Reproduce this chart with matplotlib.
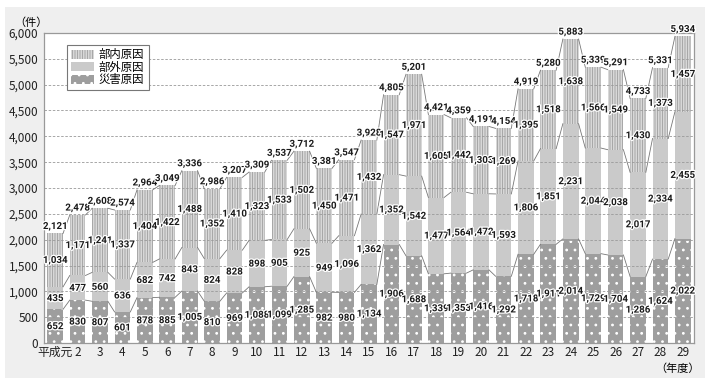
import matplotlib.pyplot as plt
import matplotlib.patheffects as pe
from matplotlib.patches import Rectangle
import numpy as np

plt.rcParams['font.family'] = ['Noto Sans CJK JP', 'DejaVu Sans']
plt.rcParams['hatch.linewidth'] = 0.8

years = ['平成元'] + [str(i) for i in range(2, 30)]
saigai = [652, 830, 807, 601, 878, 885, 1005, 810, 969, 1088, 1099, 1285, 982, 980, 1134,
          1906, 1688, 1339, 1353, 1416, 1292, 1718, 1911, 2014, 1729, 1704, 1286, 1624, 2022]
bugai = [435, 477, 560, 636, 682, 742, 843, 824, 828, 898, 905, 925, 949, 1096, 1362,
         1352, 1542, 1477, 1564, 1472, 1593, 1806, 1851, 2231, 2044, 2038, 2017, 2334, 2455]
bunai = [1034, 1171, 1241, 1337, 1404, 1422, 1488, 1352, 1410, 1323, 1533, 1502, 1450, 1471, 1432,
         1547, 1971, 1605, 1442, 1303, 1269, 1395, 1518, 1638, 1566, 1549, 1430, 1373, 1457]

saigai = np.array(saigai)
bugai = np.array(bugai)
bunai = np.array(bunai)
lv1 = saigai
lv2 = saigai + bugai
total = lv2 + bunai

fig = plt.figure(figsize=(7.1, 3.85), dpi=100)
fig.patch.set_facecolor('white')
fig.patches.append(Rectangle((5 / 710, 7 / 385), 700 / 710, 371 / 385, transform=fig.transFigure,
                             facecolor='#efefef', edgecolor='none', zorder=-10))
ax = fig.add_axes([44 / 710, 42 / 385, 650 / 710, 310 / 385])
ax.set_facecolor('white')

x = np.arange(len(years))
w = 0.7
ax.bar(x, saigai, w, color='#9e9e9e', edgecolor='white', hatch='..', linewidth=0, zorder=2, label='災害原因')
ax.bar(x, bugai, w, bottom=lv1, color='#cacaca', linewidth=0, zorder=2, label='部外原因')
ax.bar(x, bunai, w, bottom=lv2, color='white', edgecolor='#a8a8a8', hatch='|' * 10, linewidth=0, zorder=2,
       label='部内原因')

# connector lines between bars
for lv in (lv1, lv2, total):
    for i in range(len(x) - 1):
        ax.plot([x[i] + w / 2, x[i + 1] - w / 2], [lv[i], lv[i + 1]], color='#777777', lw=0.6, zorder=3)

stroke = [pe.withStroke(linewidth=1.8, foreground='white')]
kw = dict(ha='center', va='center', fontsize=7, fontweight='bold', color='#1a1a1a', zorder=5,
          family=['Roboto', 'DejaVu Sans'], path_effects=stroke)
for i in range(len(x)):
    ax.text(x[i], saigai[i] / 2, f'{saigai[i]:,}', **kw)
    ax.text(x[i], lv1[i] + bugai[i] / 2, f'{bugai[i]:,}', **kw)
    ax.text(x[i], lv2[i] + bunai[i] / 2, f'{bunai[i]:,}', **kw)
    ax.text(x[i], total[i] + 40, f'{total[i]:,}', **dict(kw, va='bottom'))

ax.set_xlim(-0.5, len(x) - 0.5)
ax.set_ylim(0, 6000)
ax.set_yticks(np.arange(0, 6001, 500))
ax.set_yticklabels([f'{v:,}' for v in range(0, 6001, 500)], fontsize=8.5)
ax.set_xticks(x)
ax.set_xticklabels(years, fontsize=8.5)
ax.tick_params(axis='y', length=0, pad=4, colors='#222222')
ax.tick_params(axis='x', length=0, pad=2, colors='#222222')
ax.yaxis.grid(True, linestyle=(0, (3, 2)), color='#999999', lw=0.6, zorder=4)
ax.set_axisbelow(False)
for s in ax.spines.values():
    s.set_color('#999999')
    s.set_linewidth(0.9)

ax.text(-0.02, 1.015, '（件）', transform=ax.transAxes, fontsize=8, ha='center', va='bottom')
ax.text(0.975, -0.065, '（年度）', transform=ax.transAxes, fontsize=8, ha='center', va='top')

h, l = ax.get_legend_handles_labels()
leg = ax.legend(h[::-1], l[::-1], loc='upper left', bbox_to_anchor=(0.035, 0.962), fontsize=8.2,
                frameon=True, fancybox=False, edgecolor='#777777', handlelength=2.0, handleheight=0.8,
                borderpad=0.4, labelspacing=0.12, handletextpad=0.4, borderaxespad=0, framealpha=1)
leg.get_frame().set_linewidth(0.8)
leg.set_zorder(6)

fig.savefig('out.png', dpi=100, facecolor=fig.get_facecolor())
